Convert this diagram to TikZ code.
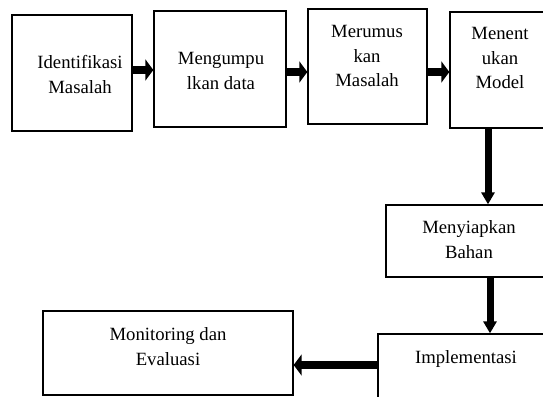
\documentclass[tikz,border=0pt]{standalone}
\usepackage{fontspec}
\setmainfont{Liberation Serif}
\usetikzlibrary{shapes,arrows.meta,positioning,calc}

\begin{document}
\begin{tikzpicture}[x=1pt, y=-1pt,
    box/.style={draw, line width=1.3pt, inner sep=0pt},
    txt/.style={align=center, anchor=north, inner sep=0pt, font=\fontsize{18.7}{24.5}\selectfont},
    harrow/.style={line width=8pt, -{Triangle[length=8pt, width=21pt]}},
    varrow/.style={line width=7pt, -{Triangle[length=12pt, width=13pt]}}]
    \clip (0,0) rectangle (543,396);
    \node[box, minimum width=120pt, minimum height=116pt] (ident) at (72,73) {};
    \node[box, minimum width=132pt, minimum height=116pt] (collect) at (220,69) {};
    \node[box, minimum width=119pt, minimum height=115pt] (formul) at (367.5,66.5) {};
    \node[box, minimum width=100pt, minimum height=116pt] (model) at (500,70) {};
    \node[box, minimum width=166pt, minimum height=72pt] (prep) at (469,241) {};
    \node[box, minimum width=176pt, minimum height=86pt] (impl) at (466,377) {};
    \node[box, minimum width=250pt, minimum height=84pt] (monev) at (168,353) {};
    % teks di dalam kotak
    \node[txt] (ident-t) at (80,55.5) {Identifikasi\\Masalah};
    \node[txt] (collect-t) at (221,52.5) {Mengumpu\\lkan data};
    \node[txt] (formul-t) at (367,25.5) {Merumus\\kan\\Masalah};
    \node[txt] (model-t) at (500,27.5) {Menent\\ukan\\Model};
    \node[txt] (prep-t) at (469,220.5) {Menyiapkan\\Bahan};
    \node[txt] (impl-t) at (466,350.5) {Implementasi};
    \node[txt] (monev-t) at (168,327.5) {Monitoring dan\\Evaluasi};
    % titik awal panah
    \coordinate (a1) at ([yshift=3pt]ident.east);
    \coordinate (a2) at ([yshift=-3pt]collect.east);
    \coordinate (a3) at ([yshift=-2pt]model.west);
    \coordinate (a4) at ([xshift=-12pt]model.south);
    \coordinate (a5) at ([xshift=21pt]prep.south);
    \coordinate (a6) at ([yshift=12pt]impl.west);
    % panah
    \draw[harrow] (a1) -- (collect.west |- a1);
    \draw[harrow] (a2) -- (formul.west |- a2);
    \draw[harrow] (formul.east |- a3) -- (a3);
    \draw[varrow] (a4) -- (prep.north -| a4);
    \draw[varrow] (a5) -- (impl.north -| a5);
    \draw[harrow] (a6) -- (monev.east |- a6);
\end{tikzpicture}
\end{document}
